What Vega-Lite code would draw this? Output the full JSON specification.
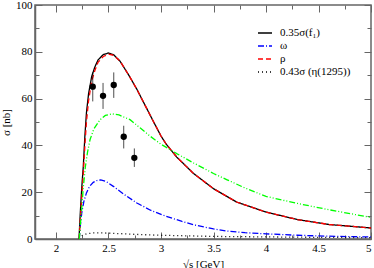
{
  "$schema": "https://vega.github.io/schema/vega-lite/v6.json",
  "width": 336,
  "height": 234,
  "autosize": "none",
  "padding": {"left": 35, "top": 5, "right": 3, "bottom": 29},
  "background": "white",
  "config": {
    "view": {"stroke": "#666", "strokeWidth": 1.5},
    "font": "Liberation Serif",
    "axis": {
      "labelFont": "Liberation Serif", "labelFontSize": 11, "labelColor": "#000",
      "titleFont": "Liberation Serif", "titleFontSize": 11, "titleFontWeight": "normal", "titleColor": "#000",
      "domainColor": "#666", "domainWidth": 1.5, "tickColor": "#666", "tickWidth": 1, "grid": false,
      "labelOverlap": false
    },
    "legend": {"labelFont": "Liberation Serif", "labelFontSize": 11, "labelColor": "#000"}
  },
  "datasets": {
    "curves": [
      {"series": "0.35σ(f₁)", "x": 2.219, "y": 0}, {"series": "0.35σ(f₁)", "x": 2.23, "y": 10}, {"series": "0.35σ(f₁)", "x": 2.24, "y": 18}, {"series": "0.35σ(f₁)", "x": 2.25, "y": 25}, {"series": "0.35σ(f₁)", "x": 2.26, "y": 31}, {"series": "0.35σ(f₁)", "x": 2.275, "y": 44}, {"series": "0.35σ(f₁)", "x": 2.29, "y": 54}, {"series": "0.35σ(f₁)", "x": 2.31, "y": 62}, {"series": "0.35σ(f₁)", "x": 2.34, "y": 69.5}, {"series": "0.35σ(f₁)", "x": 2.37, "y": 73.5}, {"series": "0.35σ(f₁)", "x": 2.4, "y": 76.5}, {"series": "0.35σ(f₁)", "x": 2.45, "y": 78.8}, {"series": "0.35σ(f₁)", "x": 2.5, "y": 79.5}, {"series": "0.35σ(f₁)", "x": 2.55, "y": 78.7}, {"series": "0.35σ(f₁)", "x": 2.61, "y": 76}, {"series": "0.35σ(f₁)", "x": 2.7, "y": 69.5}, {"series": "0.35σ(f₁)", "x": 2.77, "y": 64}, {"series": "0.35σ(f₁)", "x": 2.85, "y": 57}, {"series": "0.35σ(f₁)", "x": 2.93, "y": 50}, {"series": "0.35σ(f₁)", "x": 3.0, "y": 44}, {"series": "0.35σ(f₁)", "x": 3.05, "y": 40.5}, {"series": "0.35σ(f₁)", "x": 3.15, "y": 35}, {"series": "0.35σ(f₁)", "x": 3.31, "y": 28}, {"series": "0.35σ(f₁)", "x": 3.5, "y": 21.5}, {"series": "0.35σ(f₁)", "x": 3.72, "y": 15.8}, {"series": "0.35σ(f₁)", "x": 4.0, "y": 11.5}, {"series": "0.35σ(f₁)", "x": 4.3, "y": 8.3}, {"series": "0.35σ(f₁)", "x": 4.6, "y": 6.2}, {"series": "0.35σ(f₁)", "x": 5.0, "y": 4.7},
      {"series": "ω", "x": 2.222, "y": 0}, {"series": "ω", "x": 2.23, "y": 5}, {"series": "ω", "x": 2.245, "y": 11}, {"series": "ω", "x": 2.265, "y": 16}, {"series": "ω", "x": 2.29, "y": 19.7}, {"series": "ω", "x": 2.32, "y": 22.5}, {"series": "ω", "x": 2.355, "y": 24.2}, {"series": "ω", "x": 2.39, "y": 25}, {"series": "ω", "x": 2.426, "y": 25.3}, {"series": "ω", "x": 2.48, "y": 24.5}, {"series": "ω", "x": 2.546, "y": 22.5}, {"series": "ω", "x": 2.65, "y": 19}, {"series": "ω", "x": 2.77, "y": 15.4}, {"series": "ω", "x": 2.9, "y": 12.3}, {"series": "ω", "x": 3.05, "y": 9.7}, {"series": "ω", "x": 3.2, "y": 7.5}, {"series": "ω", "x": 3.31, "y": 6.1}, {"series": "ω", "x": 3.5, "y": 4.3}, {"series": "ω", "x": 3.63, "y": 3.4}, {"series": "ω", "x": 3.8, "y": 2.7}, {"series": "ω", "x": 4.0, "y": 2.2}, {"series": "ω", "x": 4.3, "y": 1.6}, {"series": "ω", "x": 4.6, "y": 1.2}, {"series": "ω", "x": 5.0, "y": 0.85},
      {"series": "ρ", "x": 2.221, "y": 0}, {"series": "ρ", "x": 2.23, "y": 7}, {"series": "ρ", "x": 2.24, "y": 14}, {"series": "ρ", "x": 2.25, "y": 21}, {"series": "ρ", "x": 2.26, "y": 28}, {"series": "ρ", "x": 2.275, "y": 40}, {"series": "ρ", "x": 2.29, "y": 50}, {"series": "ρ", "x": 2.31, "y": 59}, {"series": "ρ", "x": 2.34, "y": 67.5}, {"series": "ρ", "x": 2.37, "y": 72}, {"series": "ρ", "x": 2.4, "y": 75.5}, {"series": "ρ", "x": 2.45, "y": 78}, {"series": "ρ", "x": 2.5, "y": 79}, {"series": "ρ", "x": 2.55, "y": 78.5}, {"series": "ρ", "x": 2.61, "y": 76}, {"series": "ρ", "x": 2.7, "y": 69.5}, {"series": "ρ", "x": 2.77, "y": 64}, {"series": "ρ", "x": 2.85, "y": 57}, {"series": "ρ", "x": 2.93, "y": 50}, {"series": "ρ", "x": 3.0, "y": 44}, {"series": "ρ", "x": 3.05, "y": 40.5}, {"series": "ρ", "x": 3.15, "y": 35}, {"series": "ρ", "x": 3.31, "y": 28}, {"series": "ρ", "x": 3.5, "y": 21.5}, {"series": "ρ", "x": 3.72, "y": 15.8}, {"series": "ρ", "x": 4.0, "y": 11.5}, {"series": "ρ", "x": 4.3, "y": 8.3}, {"series": "ρ", "x": 4.6, "y": 6.2}, {"series": "ρ", "x": 5.0, "y": 4.7},
      {"series": "0.43σ (η(1295))", "x": 2.222, "y": 0}, {"series": "0.43σ (η(1295))", "x": 2.25, "y": 1.5}, {"series": "0.43σ (η(1295))", "x": 2.29, "y": 2.2}, {"series": "0.43σ (η(1295))", "x": 2.35, "y": 2.6}, {"series": "0.43σ (η(1295))", "x": 2.45, "y": 2.6}, {"series": "0.43σ (η(1295))", "x": 2.6, "y": 2.3}, {"series": "0.43σ (η(1295))", "x": 2.8, "y": 1.9}, {"series": "0.43σ (η(1295))", "x": 3.0, "y": 1.6}, {"series": "0.43σ (η(1295))", "x": 3.5, "y": 1.1}, {"series": "0.43σ (η(1295))", "x": 4.0, "y": 0.9}, {"series": "0.43σ (η(1295))", "x": 4.5, "y": 0.7}, {"series": "0.43σ (η(1295))", "x": 5.0, "y": 0.6},
      {"series": "g", "x": 2.222, "y": 0}, {"series": "g", "x": 2.23, "y": 5}, {"series": "g", "x": 2.245, "y": 13}, {"series": "g", "x": 2.26, "y": 22}, {"series": "g", "x": 2.28, "y": 31}, {"series": "g", "x": 2.3, "y": 37}, {"series": "g", "x": 2.324, "y": 42.4}, {"series": "g", "x": 2.36, "y": 47}, {"series": "g", "x": 2.42, "y": 51}, {"series": "g", "x": 2.47, "y": 52.8}, {"series": "g", "x": 2.53, "y": 53.5}, {"series": "g", "x": 2.6, "y": 53}, {"series": "g", "x": 2.705, "y": 51}, {"series": "g", "x": 2.8, "y": 47.5}, {"series": "g", "x": 2.895, "y": 44}, {"series": "g", "x": 3.0, "y": 40.5}, {"series": "g", "x": 3.15, "y": 36.5}, {"series": "g", "x": 3.31, "y": 32.5}, {"series": "g", "x": 3.5, "y": 28}, {"series": "g", "x": 3.63, "y": 25.3}, {"series": "g", "x": 3.8, "y": 21.8}, {"series": "g", "x": 4.0, "y": 18.2}, {"series": "g", "x": 4.3, "y": 15.2}, {"series": "g", "x": 4.6, "y": 12.5}, {"series": "g", "x": 5.0, "y": 9.2}
    ],
    "pts": [
      {"x": 2.35, "y": 65.1, "lo": 58.8, "hi": 71.2},
      {"x": 2.448, "y": 61.2, "lo": 55.6, "hi": 66.7},
      {"x": 2.55, "y": 65.8, "lo": 60.3, "hi": 71.2},
      {"x": 2.645, "y": 43.7, "lo": 38.7, "hi": 48.4},
      {"x": 2.746, "y": 34.7, "lo": 30.8, "hi": 38.7}
    ]
  },
  "resolve": {"axis": {"x": "independent", "y": "independent"}},
  "layer": [
    {
      "data": {"name": "curves"},
      "transform": [{"filter": "datum.series != 'g'"}],
      "mark": {"type": "line", "strokeWidth": 1.3, "clip": true},
      "encoding": {
        "x": {"field": "x", "type": "quantitative", "scale": {"domain": [1.8, 5], "nice": false, "zero": false},
          "axis": {"orient": "bottom", "title": "√s [GeV]", "titlePadding": 2,
            "values": [2, 2.25, 2.5, 2.75, 3, 3.25, 3.5, 3.75, 4, 4.25, 4.5, 4.75, 5],
            "labelExpr": "datum.value % 0.5 == 0 ? toString(datum.value) : ''",
            "tickSize": {"condition": {"test": "datum.value % 0.5 == 0", "value": -7}, "value": -4},
            "labelPadding": 10}},
        "y": {"field": "y", "type": "quantitative", "scale": {"domain": [0, 100], "nice": false},
          "axis": {"orient": "left", "title": "σ [nb]", "titlePadding": 4,
            "values": [0, 10, 20, 30, 40, 50, 60, 70, 80, 90, 100],
            "labelExpr": "datum.value % 20 == 0 ? toString(datum.value) : ''",
            "tickSize": {"condition": {"test": "datum.value % 20 == 0", "value": -7}, "value": -4},
            "labelPadding": 10}},
        "color": {"field": "series", "type": "nominal",
          "scale": {"domain": ["0.35σ(f₁)", "ω", "ρ", "0.43σ (η(1295))"], "range": ["#000000", "#0000ff", "#ff0000", "#000000"]},
          "legend": {"title": null, "orient": "none", "legendX": 222, "legendY": 20, "symbolType": "stroke", "symbolSize": 196, "symbolStrokeWidth": 1.3, "labelOffset": 7, "rowPadding": 0, "padding": 0}},
        "strokeDash": {"field": "series", "type": "nominal",
          "scale": {"domain": ["0.35σ(f₁)", "ω", "ρ", "0.43σ (η(1295))"], "range": [[1, 0], [6, 2, 1, 2], [5, 3], [1, 3]]},
          "legend": {"title": null, "orient": "none", "legendX": 222, "legendY": 20, "symbolType": "stroke", "symbolSize": 196, "symbolStrokeWidth": 1.3, "labelOffset": 7, "rowPadding": 0, "padding": 0}}
      }
    },
    {
      "data": {"name": "curves"},
      "transform": [{"filter": "datum.series == 'g'"}],
      "mark": {"type": "line", "strokeWidth": 1.3, "color": "#00ff00", "strokeDash": [6, 2, 1, 2, 1, 2], "clip": true},
      "encoding": {
        "x": {"field": "x", "type": "quantitative", "axis": null},
        "y": {"field": "y", "type": "quantitative", "axis": null}
      }
    },
    {
      "data": {"name": "pts"},
      "mark": {"type": "rule", "color": "#000", "strokeWidth": 1, "opacity": 0.7},
      "encoding": {
        "x": {"field": "x", "type": "quantitative", "axis": null},
        "y": {"field": "lo", "type": "quantitative", "axis": null},
        "y2": {"field": "hi"}
      }
    },
    {
      "data": {"name": "pts"},
      "mark": {"type": "circle", "color": "#000", "opacity": 1, "size": 40},
      "encoding": {
        "x": {"field": "x", "type": "quantitative",
          "axis": {"orient": "top", "title": null, "labels": false, "domain": false,
            "values": [2, 2.25, 2.5, 2.75, 3, 3.25, 3.5, 3.75, 4, 4.25, 4.5, 4.75, 5],
            "tickSize": {"condition": {"test": "datum.value % 0.5 == 0", "value": -7}, "value": -4}}},
        "y": {"field": "y", "type": "quantitative",
          "axis": {"orient": "right", "title": null, "labels": false, "domain": false,
            "values": [0, 10, 20, 30, 40, 50, 60, 70, 80, 90, 100],
            "tickSize": {"condition": {"test": "datum.value % 20 == 0", "value": -7}, "value": -4}}}
      }
    }
  ]
}
